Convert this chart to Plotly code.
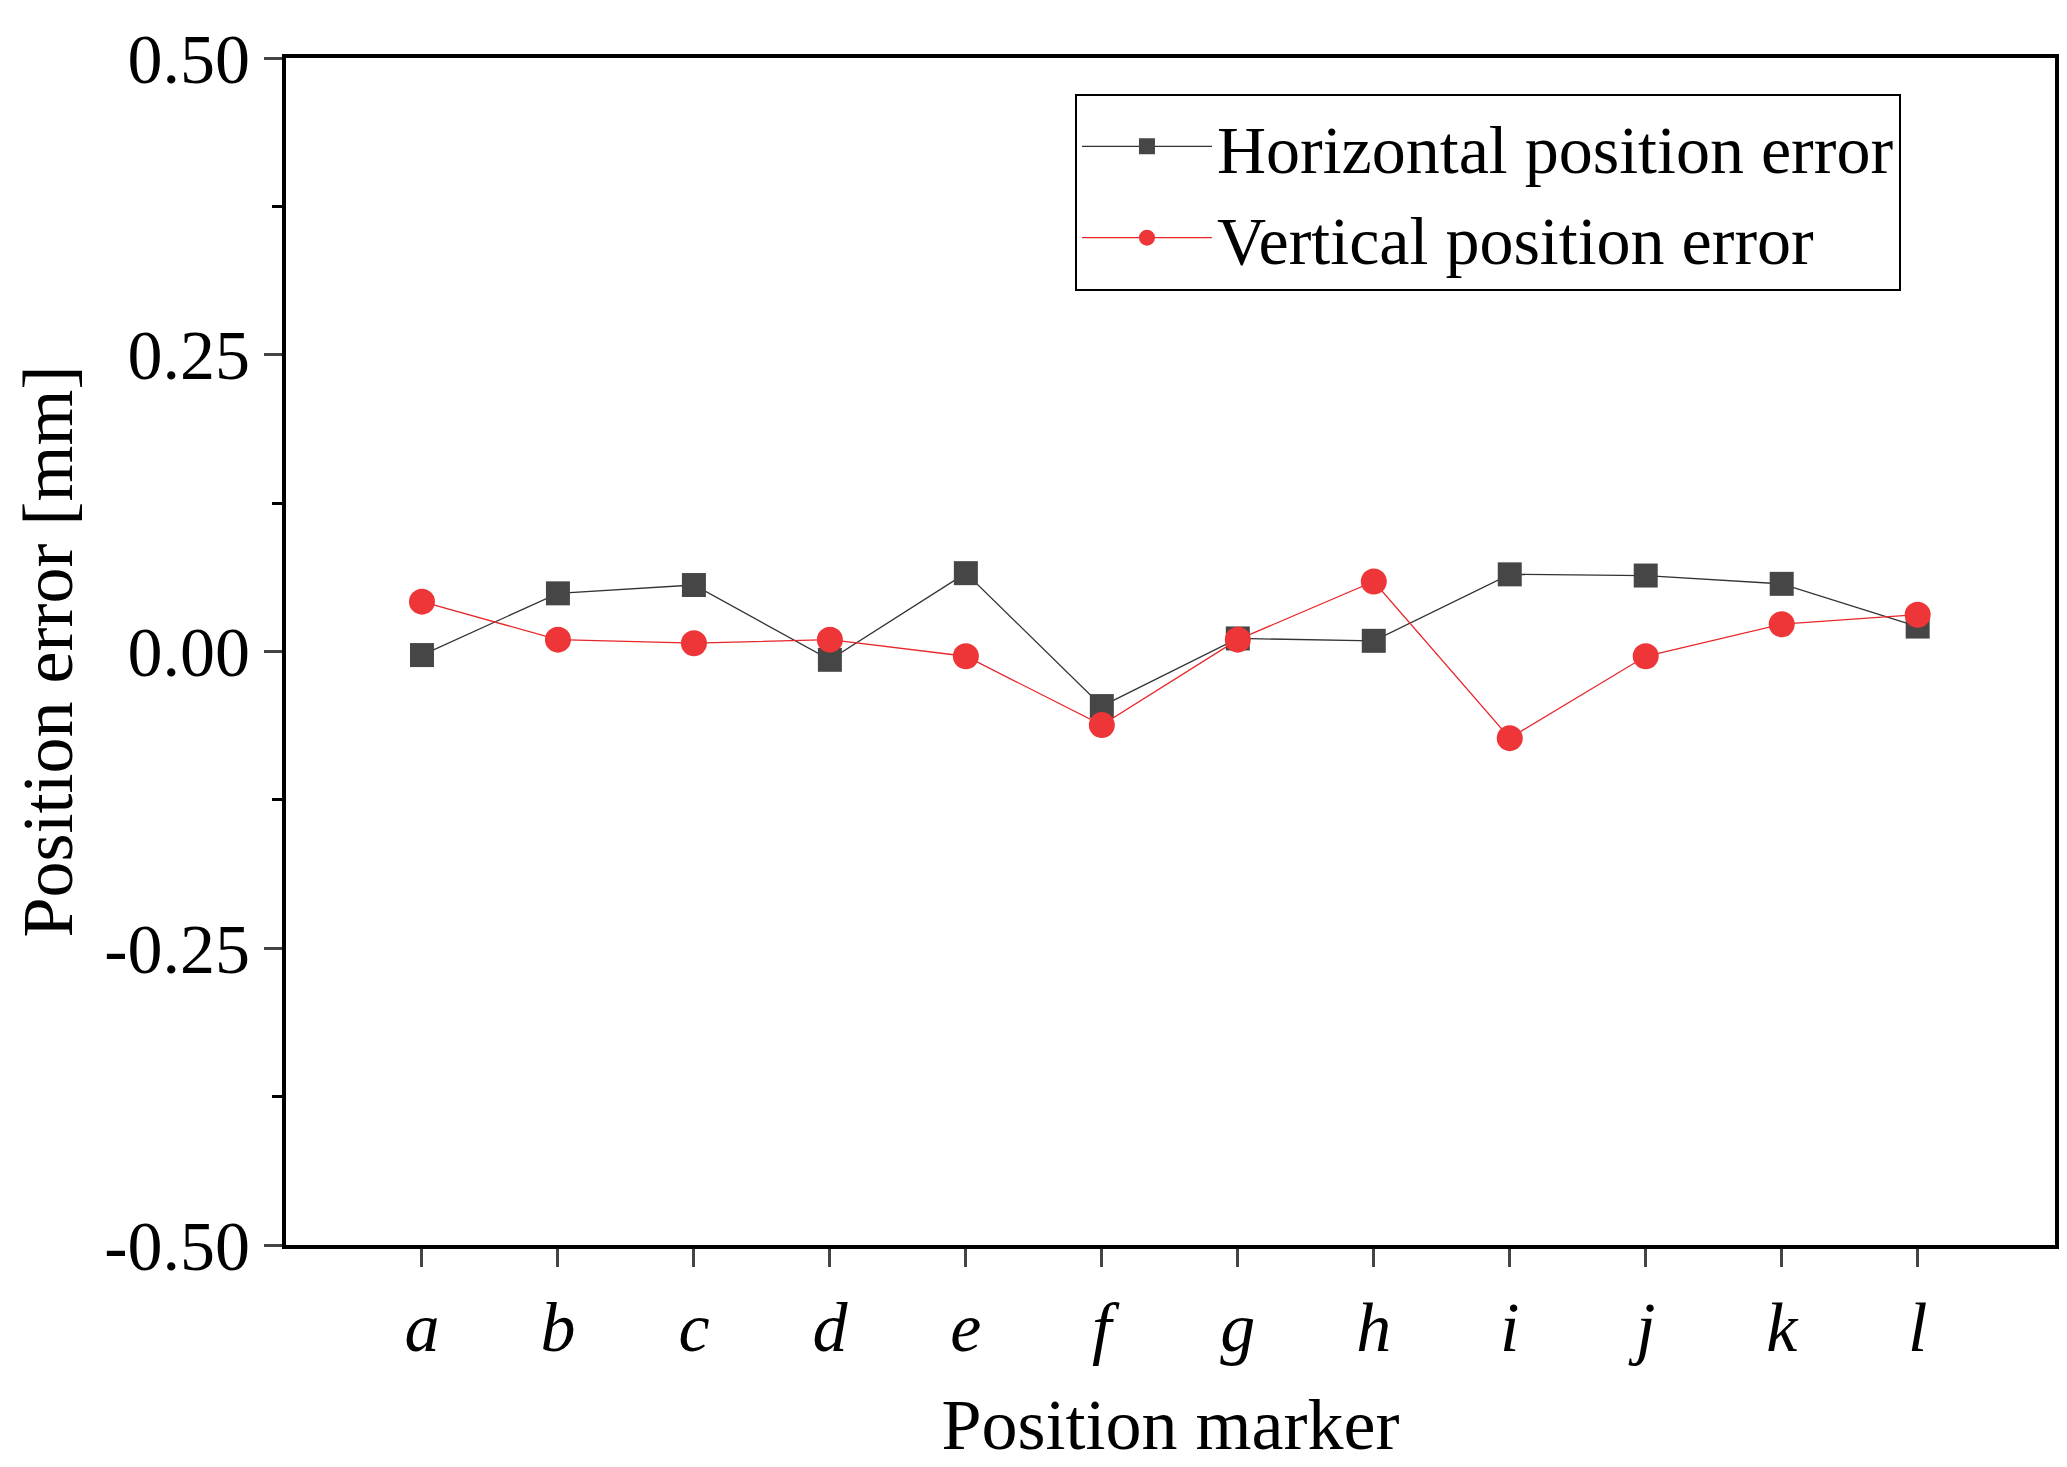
import plotly.graph_objects as go

# data
markers = ["a", "b", "c", "d", "e", "f", "g", "h", "i", "j", "k", "l"]
horizontal_err = [-0.003, 0.049, 0.056, -0.007, 0.066, -0.046, 0.011, 0.009, 0.065, 0.064, 0.057, 0.021]
vertical_err = [0.042, 0.010, 0.007, 0.010, -0.004, -0.062, 0.010, 0.059, -0.073, -0.004, 0.023, 0.031]
y_ticks = [-0.50, -0.25, 0.00, 0.25, 0.50]

xpos = list(range(len(markers)))
font = "Liberation Serif"

fig = go.Figure()
fig.add_trace(go.Scatter(
    x=xpos, y=horizontal_err, mode="lines+markers", name="Horizontal position error",
    line=dict(color="#333333", width=1.3),
    marker=dict(symbol="square", size=24, color="#464646"),
))
fig.add_trace(go.Scatter(
    x=xpos, y=vertical_err, mode="lines+markers", name="Vertical position error",
    line=dict(color="#e8262a", width=1.3),
    marker=dict(symbol="circle", size=26, color="#ee3538"),
))

fig.update_layout(
    width=2067, height=1467,
    paper_bgcolor="white", plot_bgcolor="white",
    margin=dict(l=278, r=20, t=42, b=230),
    font=dict(family=font, color="black"),
    legend=dict(
        x=0.446, y=0.970, xanchor="left", yanchor="top",
        bordercolor="black", borderwidth=2, bgcolor="white",
        font=dict(family=font, size=68), itemwidth=130,
    ),
)
fig.update_xaxes(
    range=[-1, 12.01], tickvals=xpos, ticktext=[f"<i>{m}</i>" for m in markers],
    ticks="outside", ticklen=18, tickwidth=3, linecolor="black", linewidth=4,
    mirror=True, showgrid=False, zeroline=False,
    tickfont=dict(size=70), title=dict(text="Position marker", font=dict(size=72), standoff=35),
)
fig.update_yaxes(
    range=[-0.5, 0.5], tickvals=y_ticks, ticktext=[f"{v:.2f}" for v in y_ticks],
    ticks="outside", ticklen=18, tickwidth=3, linecolor="black", linewidth=4,
    mirror=True, showgrid=False, zeroline=False,
    minor=dict(dtick=0.125, ticks="outside", ticklen=10, tickwidth=3, tickcolor="black", showgrid=False),
    tickfont=dict(size=70), title=dict(text="Position error [mm]", font=dict(size=72), standoff=15),
)

fig.write_html("out.html")
